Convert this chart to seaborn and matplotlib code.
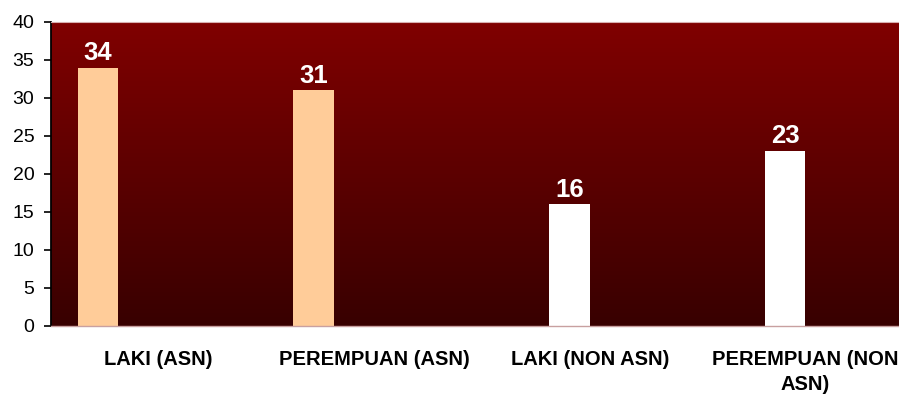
import numpy as np
import pandas as pd
import matplotlib
matplotlib.use("Agg")
import matplotlib.pyplot as plt
import seaborn as sns
from matplotlib.colors import LinearSegmentedColormap

categories = ["LAKI (ASN)", "PEREMPUAN (ASN)", "LAKI (NON ASN)", "PEREMPUAN (NON\nASN)"]
values = [34, 31, 16, 23]
series = ["ASN", "ASN", "NON ASN", "NON ASN"]
series_order = ["ASN", "NON ASN", "S3", "S4"]
series_colors = {"ASN": "#FFCC99", "NON ASN": "#FFFFFF", "S3": "#FFFFFF", "S4": "#FFFFFF"}
yticks = [0, 5, 10, 15, 20, 25, 30, 35, 40]

sns.set_theme(style="white")
plt.rcParams['font.family'] = ['Liberation Sans', 'DejaVu Sans']

df = pd.DataFrame({"cat": categories, "val": values, "ser": series})

fig = plt.figure(figsize=(8.99, 3.96), dpi=100)
ax = fig.add_axes([51/899, 1 - 326/396, 1 - 51/899, (326 - 22)/396])

sns.barplot(data=df, x="cat", y="val", hue="ser", hue_order=series_order,
            palette=series_colors, order=categories, width=0.75, dodge=True,
            saturation=1, ax=ax, legend=False, linewidth=0, zorder=2)

xmin, xmax = -0.5, 3.5 - 14/215.5
ymin, ymax = 0, 40
grad = np.linspace(0, 1, 256).reshape(-1, 1)
cmap = LinearSegmentedColormap.from_list("bg", ["#380000", "#800000"])
ax.imshow(grad, extent=[xmin, xmax, ymin, ymax], origin="lower", aspect="auto",
          cmap=cmap, zorder=0, interpolation="bicubic")
ax.set_xlim(xmin, xmax)
ax.set_ylim(ymin, ymax)

for p in ax.patches:
    h = p.get_height()
    if h and h > 0:
        ax.annotate(f"{int(round(h))}", (p.get_x() + p.get_width() / 2, h),
                    xytext=(0, 2), textcoords="offset points", ha="center", va="bottom",
                    color="white", fontsize=18.5, fontweight="bold", zorder=5)

ax.set_yticks(yticks)
ax.set_yticklabels([str(t) for t in yticks], fontsize=14, color="black")
ax.tick_params(axis="y", which="both", left=True, length=5, width=1.2, color="black", pad=7)
ax.tick_params(axis="x", bottom=False, pad=11)
for lbl in ax.get_xticklabels():
    lbl.set_fontsize(14.5)
    lbl.set_fontweight("bold")
    lbl.set_color("black")
    lbl.set_linespacing(1.4)

ax.set_xlabel("")
ax.set_ylabel("")
ax.spines["left"].set_color("black")
ax.spines["left"].set_linewidth(1.3)
ax.spines["bottom"].set_color("#C8A0A0")
ax.spines["bottom"].set_linewidth(1.0)
ax.spines["top"].set_color("#D8B0B0")
ax.spines["top"].set_linewidth(0.8)
ax.spines["right"].set_visible(False)

fig.savefig("out.png", dpi=100, facecolor="white")
